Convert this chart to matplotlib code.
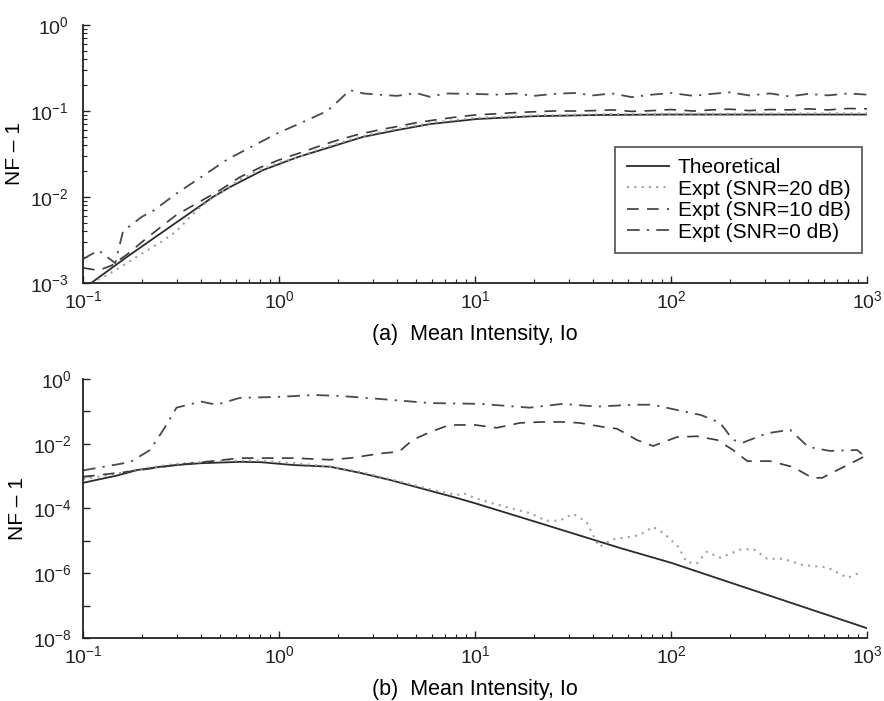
import matplotlib
matplotlib.use("Agg")
import matplotlib.pyplot as plt
from matplotlib.ticker import LogLocator, FixedLocator, FuncFormatter, NullFormatter

plt.rcParams['font.family'] = ['Liberation Sans', 'DejaVu Sans']
plt.rcParams['mathtext.fontset'] = 'custom'
plt.rcParams['mathtext.rm'] = 'Liberation Sans'
plt.rcParams['mathtext.it'] = 'Liberation Sans:italic'

# ---------------- panel (a) ----------------
a_theo_x = [0.11, 0.167, 0.278, 0.46, 0.56, 0.83, 1.24, 1.82, 2.68, 4.0, 5.9, 10.2, 20, 43.6, 100, 1000]
a_theo_y = [1.0e-3, 2.0e-3, 4.5e-3, 1.0e-2, 1.3e-2, 2.06e-2, 2.9e-2, 3.8e-2, 5.0e-2, 6.0e-2, 7.06e-2,
            8.07e-2, 8.7e-2, 9.0e-2, 9.1e-2, 9.1e-2]

a_snr20_x = [0.11, 0.13, 0.16, 0.2, 0.25, 0.3, 0.35, 0.4, 0.5, 0.63, 0.8, 1.0, 1.3, 1.6, 2.0, 2.5, 3.2,
             4.0, 5.0, 6.3, 8.0, 10, 20, 50, 100, 200, 500, 1000]
a_snr20_y = [1.0e-3, 1.2e-3, 1.6e-3, 2.2e-3, 3.0e-3, 4.0e-3, 5.8e-3, 7.8e-3, 1.12e-2, 1.6e-2, 2.05e-2,
             2.5e-2, 3.0e-2, 3.6e-2, 4.2e-2, 4.9e-2, 5.6e-2, 6.2e-2, 6.8e-2, 7.4e-2, 7.9e-2, 8.3e-2,
             8.9e-2, 9.2e-2, 9.3e-2, 9.3e-2, 9.4e-2, 9.4e-2]

a_snr10_x = [0.1, 0.12, 0.14, 0.17, 0.2, 0.25, 0.3, 0.4, 0.5, 0.63, 0.8, 1.0, 1.3, 1.6, 2.0, 2.5, 3.2,
             4.0, 5.0, 6.3, 8.0, 10, 13, 16, 20, 25, 32, 40, 50, 63, 80, 100, 130, 160, 200, 250, 320,
             400, 500, 630, 800, 1000]
a_snr10_y = [1.5e-3, 1.4e-3, 1.6e-3, 2.2e-3, 3.0e-3, 4.5e-3, 6.2e-3, 9.0e-3, 1.2e-2, 1.7e-2, 2.2e-2,
             2.7e-2, 3.3e-2, 3.9e-2, 4.6e-2, 5.3e-2, 6.0e-2, 6.6e-2, 7.3e-2, 7.9e-2, 8.5e-2, 9.0e-2,
             9.3e-2, 9.6e-2, 9.8e-2, 0.100, 0.100, 0.101, 0.103, 0.099, 0.101, 0.104, 0.100, 0.103,
             0.105, 0.101, 0.104, 0.103, 0.106, 0.103, 0.107, 0.106]

a_snr0_x = [0.1, 0.12, 0.146, 0.16, 0.2, 0.23, 0.3, 0.4, 0.54, 0.7, 0.98, 1.3, 1.76, 2.0, 2.3, 2.7, 3.2,
            4.0, 5.0, 5.9, 7.0, 10, 13, 16, 20, 25, 32, 40, 50, 63, 80, 100, 130, 160, 200, 250, 320,
            400, 500, 630, 800, 1000]
a_snr0_y = [1.9e-3, 2.4e-3, 1.7e-3, 4.0e-3, 5.9e-3, 7.0e-3, 1.1e-2, 1.7e-2, 2.7e-2, 3.7e-2, 5.5e-2,
            7.3e-2, 1.0e-1, 1.3e-1, 1.75e-1, 1.6e-1, 1.55e-1, 1.5e-1, 1.62e-1, 1.46e-1, 1.6e-1,
            1.58e-1, 1.55e-1, 1.6e-1, 1.5e-1, 1.58e-1, 1.62e-1, 1.52e-1, 1.6e-1, 1.45e-1, 1.55e-1,
            1.62e-1, 1.5e-1, 1.58e-1, 1.65e-1, 1.52e-1, 1.6e-1, 1.48e-1, 1.58e-1, 1.52e-1, 1.6e-1,
            1.55e-1]

# ---------------- panel (b) ----------------
b_theo_x = [0.1, 0.15, 0.19, 0.25, 0.30, 0.4, 0.63, 0.8, 1.18, 1.82, 2.59, 3.68, 8.1, 10, 20, 55, 100, 1000]
b_theo_y = [6.2e-4, 1.05e-3, 1.55e-3, 1.95e-3, 2.2e-3, 2.5e-3, 2.75e-3, 2.7e-3, 2.2e-3, 1.95e-3,
            1.26e-3, 7.6e-4, 2.1e-4, 1.45e-4, 4.0e-5, 6.0e-6, 2.1e-6, 2.0e-8]

b_snr20_x = [0.1, 0.15, 0.2, 0.3, 0.5, 0.8, 1.2, 1.8, 2.6, 3.3, 4.5, 6.0, 7.2, 8.1, 8.7, 10.2, 12.5,
             15.5, 19, 23, 27, 31.6, 37, 40, 43, 50, 60, 69, 81, 92, 109, 120, 135, 152, 178, 224,
             263, 309, 372, 468, 630, 795, 935]
b_snr20_y = [8e-4, 1.2e-3, 1.7e-3, 2.4e-3, 3.0e-3, 3.0e-3, 2.5e-3, 2.0e-3, 1.35e-3, 9.5e-4, 6.0e-4,
             3.8e-4, 3.0e-4, 2.6e-4, 3.0e-4, 2.0e-4, 1.4e-4, 9.8e-5, 7.2e-5, 4.2e-5, 4.2e-5, 6.8e-5,
             3.9e-5, 1.5e-5, 6.5e-6, 1.1e-5, 1.3e-5, 1.5e-5, 2.7e-5, 1.7e-5, 6.5e-6, 2.2e-6, 2.0e-6,
             4.6e-6, 3.0e-6, 5.3e-6, 5.6e-6, 2.8e-6, 2.8e-6, 1.8e-6, 1.5e-6, 7.2e-7, 1.1e-6]

b_snr10_x = [0.1, 0.167, 0.3, 0.63, 1.18, 1.82, 2.3, 3.3, 4.1, 4.8, 5.9, 7.4, 10, 12.9, 17, 22, 28, 34,
             45, 53, 67, 81, 107, 135, 172, 207, 245, 320, 420, 525, 590, 676, 850, 980]
b_snr10_y = [9.5e-4, 1.35e-3, 2.2e-3, 3.6e-3, 3.6e-3, 3.2e-3, 3.6e-3, 5.0e-3, 5.7e-3, 1.3e-2, 2.3e-2,
             3.8e-2, 3.8e-2, 3.1e-2, 4.4e-2, 4.7e-2, 4.7e-2, 4.4e-2, 3.3e-2, 2.9e-2, 1.3e-2, 8.5e-3,
             1.6e-2, 1.7e-2, 1.3e-2, 6.4e-3, 2.9e-3, 2.9e-3, 1.9e-3, 8.8e-4, 8.8e-4, 1.35e-3, 2.7e-3,
             4.2e-3]

b_snr0_x = [0.1, 0.174, 0.22, 0.257, 0.30, 0.40, 0.48, 0.63, 1.01, 1.49, 2.04, 3.3, 5.9, 10.6, 19, 28,
            42, 64, 81, 107, 142, 178, 207, 234, 309, 405, 500, 645, 890, 980]
b_snr0_y = [1.5e-3, 2.7e-3, 6.4e-3, 2.7e-2, 1.3e-1, 2.0e-1, 1.6e-1, 2.6e-1, 2.8e-1, 3.2e-1, 3.0e-1,
            2.4e-1, 1.8e-1, 1.7e-1, 1.3e-1, 1.7e-1, 1.4e-1, 1.6e-1, 1.6e-1, 1.1e-1, 7.7e-2, 4.4e-2,
            1.3e-2, 1.1e-2, 2.1e-2, 2.7e-2, 8e-3, 6e-3, 6.4e-3, 3.9e-3]

legend_labels = ['Theoretical', 'Expt (SNR=20 dB)', 'Expt (SNR=10 dB)', 'Expt (SNR=0 dB)']
xlabels = ['(a)  Mean Intensity, Io', '(b)  Mean Intensity, Io']
ylabel = 'NF \u2013 1'

styles = [
    dict(color='#2a2a2a', linestyle='-', linewidth=1.3),
    dict(color='#a0a0a0', linestyle=(0, (1, 2.5)), linewidth=1.5),
    dict(color='#3a3a3a', linestyle=(0, (7, 5)), linewidth=1.2),
    dict(color='#4a4a4a', linestyle=(0, (7, 4, 1.2, 4)), linewidth=1.3),
]

fig = plt.figure(figsize=(8.84, 7.01), dpi=100)
ax1 = fig.add_axes([0.0939, 0.5963, 0.887, 0.368])
ax2 = fig.add_axes([0.0939, 0.0899, 0.887, 0.3695])

panels = [
    (ax1, [(a_theo_x, a_theo_y), (a_snr20_x, a_snr20_y), (a_snr10_x, a_snr10_y), (a_snr0_x, a_snr0_y)]),
    (ax2, [(b_theo_x, b_theo_y), (b_snr20_x, b_snr20_y), (b_snr10_x, b_snr10_y), (b_snr0_x, b_snr0_y)]),
]

def sci(v, pos):
    import math
    e = int(round(math.log10(v)))
    return r'$10^{%d}$' % e

for ax, series in panels:
    for (xs, ys), st, lab in zip(series, styles, legend_labels):
        ax.plot(xs, ys, label=lab, **st)
    ax.set_xscale('log')
    ax.set_yscale('log')
    ax.set_xlim(0.1, 1000)
    for s in ['top', 'right']:
        ax.spines[s].set_visible(False)
    for s in ['left', 'bottom']:
        ax.spines[s].set_linewidth(1.3)
        ax.spines[s].set_color('#222222')
    ax.tick_params(which='both', direction='in', colors='#222222', labelsize=14)
    ax.tick_params(which='major', length=5, width=1.0)
    ax.tick_params(which='minor', length=3, width=0.8)
    ax.tick_params(axis='x', pad=5)
    ax.xaxis.set_major_locator(LogLocator(base=10, numticks=10))
    ax.xaxis.set_minor_locator(LogLocator(base=10, subs=range(2, 10), numticks=20))
    ax.xaxis.set_major_formatter(FuncFormatter(sci))
    ax.xaxis.set_minor_formatter(NullFormatter())
    ax.set_ylabel(ylabel, fontsize=15, labelpad=4)

ax1.tick_params(axis='y', pad=10.5)
ax2.tick_params(axis='y', pad=8)

ax1.set_ylim(1e-3, 1)
ax1.yaxis.set_major_locator(LogLocator(base=10, numticks=10))
ax1.yaxis.set_minor_locator(LogLocator(base=10, subs=range(2, 10), numticks=20))
ax1.yaxis.set_major_formatter(FuncFormatter(sci))
ax1.yaxis.set_minor_formatter(NullFormatter())

b_yticks = [1e-8, 1e-6, 1e-4, 1e-2, 1e0]
b_yminor = [1e-7, 1e-5, 1e-3, 1e-1]
ax2.set_ylim(1e-8, 1)
ax2.yaxis.set_major_locator(FixedLocator(b_yticks))
ax2.yaxis.set_minor_locator(FixedLocator(b_yminor))
ax2.yaxis.set_major_formatter(FuncFormatter(sci))
ax2.yaxis.set_minor_formatter(NullFormatter())
ax2.tick_params(axis='y', which='minor', length=5, width=1.0)

ax1.set_xlabel(xlabels[0], fontsize=15.5, labelpad=9)
ax2.set_xlabel(xlabels[1], fontsize=15.5, labelpad=9)

leg = ax1.legend(loc='lower right', bbox_to_anchor=(0.9936, 0.116), fontsize=15, frameon=True,
                 fancybox=False, edgecolor='#222222', handlelength=2.0, handletextpad=0.45,
                 borderpad=0.55, labelspacing=0.12, borderaxespad=0.0)
leg.get_frame().set_linewidth(1.2)

fig.savefig('out.png', dpi=100)
